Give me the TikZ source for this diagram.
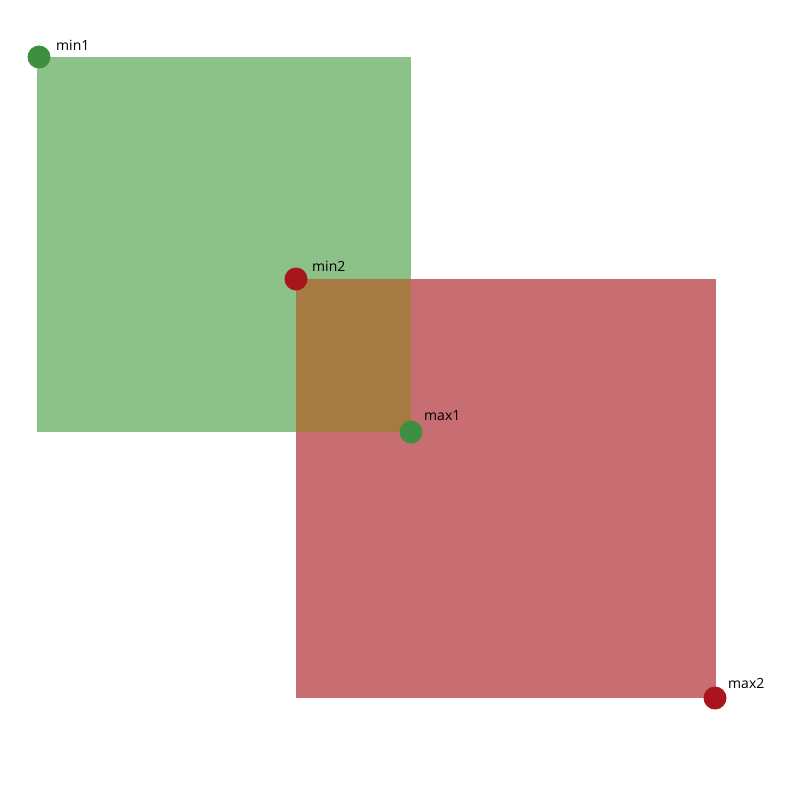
\documentclass[tikz,border=0pt]{standalone}
\usepackage{fontspec}
\setmainfont{Open Sans}
\definecolor{gfill}{HTML}{8CC189}
\definecolor{rfill}{HTML}{C86D71}
\definecolor{ofill}{HTML}{A57B41}
\definecolor{gdot}{HTML}{3F8F40}
\definecolor{rdot}{HTML}{A8151C}
\tikzset{
  dotg/.style={circle,fill=gdot,minimum size=23pt,inner sep=0pt},
  dotr/.style={circle,fill=rdot,minimum size=23pt,inner sep=0pt},
  lbl/.style={anchor=base west,font=\fontsize{14}{16}\selectfont,inner sep=0pt}
}
\begin{document}
\begin{tikzpicture}[x=1pt,y=-1pt]
\useasboundingbox (0,0) rectangle (800,800);
\fill[gfill] (37,57) rectangle (411,432);
\fill[rfill] (296,279) rectangle (716,698);
\fill[ofill] (296,279) rectangle (411,432);
\node[dotg] (min1) at (39,57) {};
\node[dotr] (min2) at (296,279) {};
\node[dotg] (max1) at (411,432) {};
\node[dotr] (max2) at (715,698) {};
\node[lbl] (tmin1) at (56,51) {min1};
\node[lbl] (tmin2) at (312,271) {min2};
\node[lbl] (tmax1) at (424,420) {max1};
\node[lbl] (tmax2) at (728,688) {max2};
\end{tikzpicture}
\end{document}
